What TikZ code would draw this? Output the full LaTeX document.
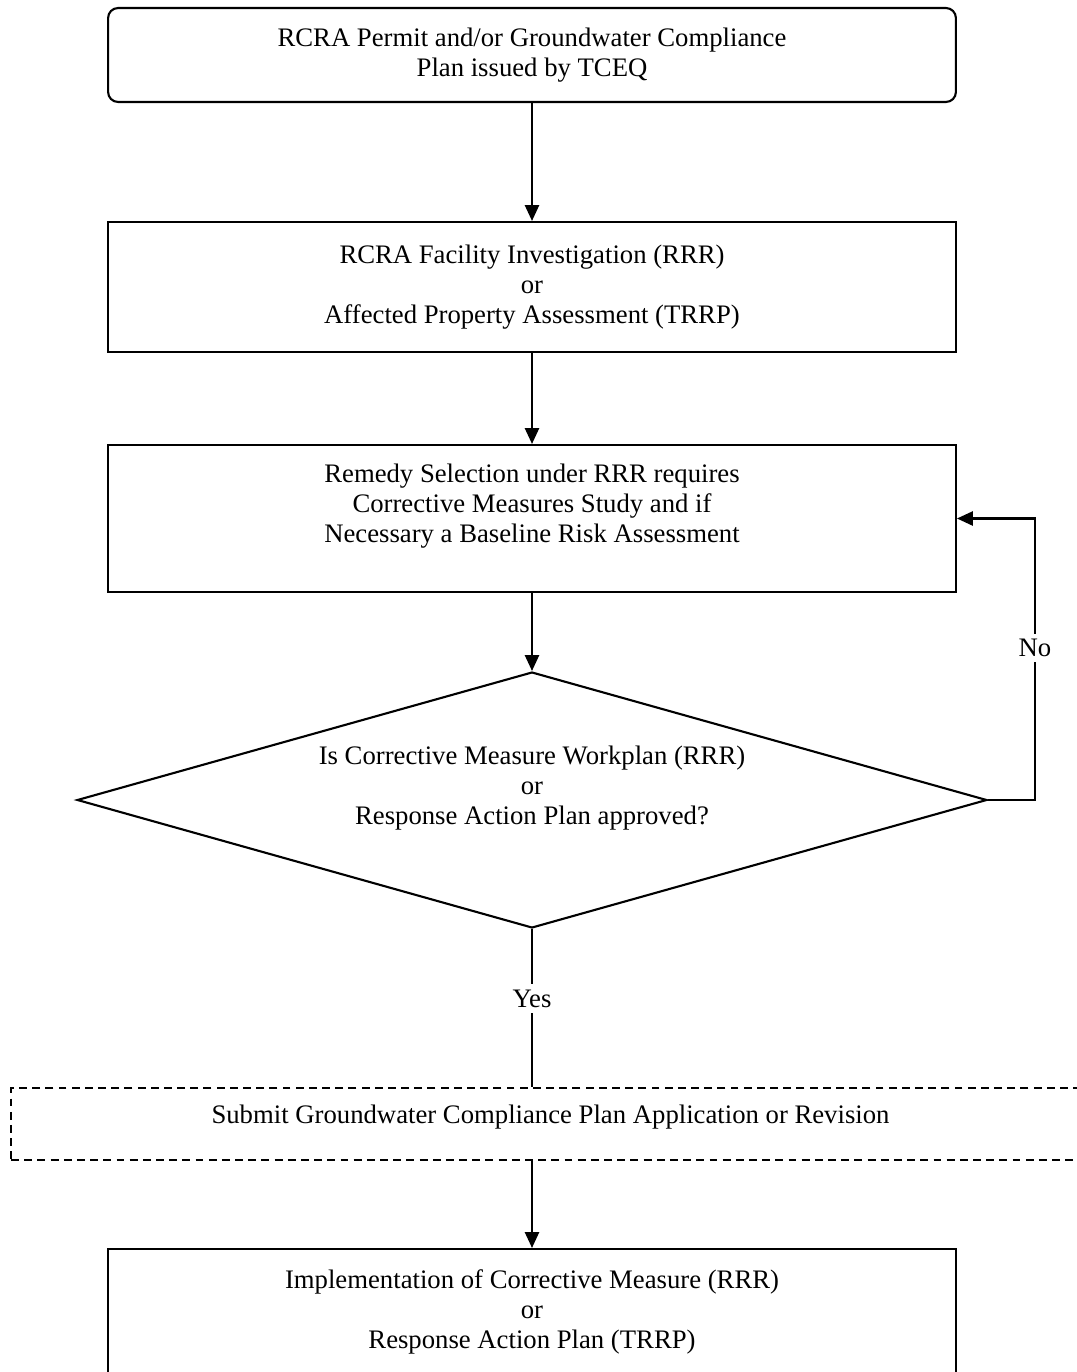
\documentclass[tikz,border=0pt]{standalone}
\usepackage{fontspec}
\setmainfont{Liberation Serif}
\usepackage{tikz}
\usetikzlibrary{shapes.geometric,arrows.meta}
\definecolor{ink}{RGB}{0,0,0}
\tikzset{
  txt/.style={font=\fontsize{15.2}{17.07}\selectfont},
  stepbox/.style={draw=ink,line width=1.2pt,rectangle,minimum width=16.96cm,align=center,txt},
  roundbox/.style={stepbox,rounded corners=0.2cm},
  decision/.style={draw=ink,line width=1.2pt,diamond,aspect=3.5,minimum width=18.2cm,minimum height=5.12cm,align=center,inner sep=0pt,txt},
  dashbox/.style={draw=ink,line width=1.2pt,dash pattern=on 4.5pt off 3pt,rectangle,minimum width=21.58cm,minimum height=1.44cm,align=center,txt},
  flow/.style={draw=ink,line width=1.2pt,-{Triangle[length=9pt,width=8pt]}},
  answer/.style={fill=white,inner sep=3pt,txt}
}
\begin{document}
\begin{tikzpicture}[x=0.02cm,y=-0.02cm]
\useasboundingbox (0,0) rectangle (1076,1372);
% boxes of the procedure
\node[roundbox,minimum height=1.88cm] (permit) at (532,55) {RCRA Permit and/or Groundwater Compliance\\Plan issued by TCEQ};
\node[stepbox,minimum height=2.6cm] (rfi) at (532,287) {RCRA Facility Investigation (RRR)\\or\\Affected Property Assessment (TRRP)};
\node[stepbox,minimum height=2.94cm] (remedy) at (532,518.5) {Remedy Selection under RRR requires\\Corrective Measures Study and if\\Necessary a Baseline Risk Assessment\\ \mbox{}};
\node[decision] (approved) at (532,800) {Is Corrective Measure Workplan (RRR)\\or\\Response Action Plan approved?\\ \mbox{}};
\node[dashbox] (submit) at (550.5,1124) {Submit Groundwater Compliance Plan Application or Revision\\[-6pt]\mbox{}};
\node[stepbox,minimum height=3cm] (implement) at (532,1324) {Implementation of Corrective Measure (RRR)\\or\\Response Action Plan (TRRP)\\ \mbox{}};
\coordinate (nobend) at (1035,800);
% connectors
\draw[flow] (permit.south) -- (rfi.north);
\draw[flow] (rfi.south) -- (remedy.north);
\draw[flow] (remedy.south) -- (approved.north);
\draw[draw=ink,line width=1.2pt] (approved.south) -- node[answer,pos=0.44] {Yes} (approved.south |- submit.north);
\draw[flow] (approved.east) -- (nobend) |- node[answer,pos=0.27] {No} (remedy.east);
\draw[flow] (approved.south |- submit.south) -- (implement.north);
\end{tikzpicture}
\end{document}
